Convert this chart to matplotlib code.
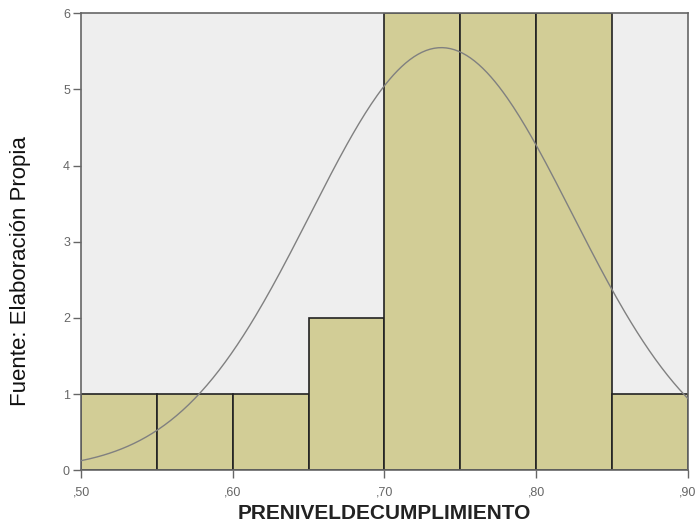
import numpy as np
import matplotlib
matplotlib.use("Agg")
import matplotlib.pyplot as plt

plt.rcParams['font.family'] = ['Liberation Sans', 'DejaVu Sans']

# histogram data
bin_edges = [0.50, 0.55, 0.60, 0.65, 0.70, 0.75, 0.80, 0.85, 0.90]
counts = [1, 1, 1, 2, 6, 6, 6, 1]
curve_mean = 0.7375
curve_sd = 0.0863
x_ticks = [0.50, 0.60, 0.70, 0.80, 0.90]
x_tick_labels = [",50", ",60", ",70", ",80", ",90"]
y_ticks = [0, 1, 2, 3, 4, 5, 6]

fig = plt.figure(figsize=(6.99, 5.26), dpi=100)
ax = fig.add_axes([0.116, 0.106, 0.868, 0.869])
ax.set_facecolor('#eeeeee')

widths = np.diff(bin_edges)
ax.bar(bin_edges[:-1], counts, width=widths, align='edge',
       color='#d2cd96', edgecolor='#222222', linewidth=1.2, zorder=2)

# normal curve scaled to counts
n = sum(counts)
bw = bin_edges[1] - bin_edges[0]
xs = np.linspace(bin_edges[0], bin_edges[-1], 300)
ys = n * bw / (curve_sd * np.sqrt(2 * np.pi)) * np.exp(-0.5 * ((xs - curve_mean) / curve_sd) ** 2)
ax.plot(xs, ys, color='#808080', linewidth=1.0, zorder=3)

ax.set_xlim(bin_edges[0], bin_edges[-1])
ax.set_ylim(0, 6)
ax.set_xticks(x_ticks)
ax.set_xticklabels(x_tick_labels)
ax.set_yticks(y_ticks)
ax.tick_params(axis='both', labelsize=9, labelcolor='#666666', color='#666666',
               length=6, width=1, direction='out', pad=2)
ax.tick_params(axis='x', pad=6)
for sp in ax.spines.values():
    sp.set_color('#666666')
    sp.set_linewidth(1.2)

ax.set_xlabel('PRENIVELDECUMPLIMIENTO', fontsize=15, fontweight='bold',
              color='#222222', labelpad=4)
fig.text(0.029, 0.485, 'Fuente: Elaboración Propia', rotation=90, fontsize=16,
         ha='center', va='center', color='#111111')

fig.savefig('out.png', dpi=100)
